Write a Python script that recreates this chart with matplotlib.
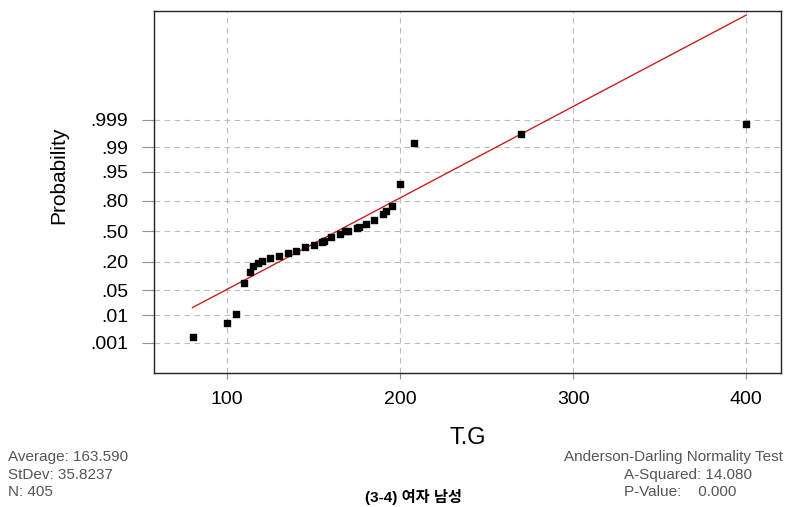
import matplotlib
matplotlib.use("Agg")
import matplotlib.pyplot as plt
from statistics import NormalDist

plt.rcParams['font.family'] = ['Liberation Sans', 'Noto Sans CJK KR', 'DejaVu Sans']

# data
tg = [80, 100, 105, 110, 113, 115, 118, 120, 125, 130, 135, 140, 145, 150,
      155, 156, 160, 165, 168, 170, 175, 176, 180, 185, 190, 192, 195, 200,
      208, 270, 400]
prob = [0.00164, 0.0054, 0.0104, 0.0735, 0.131, 0.166, 0.189, 0.206, 0.227,
        0.250, 0.274, 0.288, 0.326, 0.352, 0.386, 0.394, 0.436, 0.470, 0.500,
        0.508, 0.536, 0.552, 0.575, 0.622, 0.681, 0.716, 0.761, 0.905,
        0.9927, 0.9964, 0.9986]
prob_ticks = [0.001, 0.01, 0.05, 0.20, 0.50, 0.80, 0.95, 0.99, 0.999]
prob_labels = ['.001', '.01', '.05', '.20', '.50', '.80', '.95', '.99', '.999']
x_ticks = [100, 200, 300, 400]

# fitted reference line (as drawn)
fit_mean = 163.5
fit_sd = 39.4
fit_range = [80, 400]

nd = NormalDist()
z = [nd.inv_cdf(p) for p in prob]
z_ticks = [nd.inv_cdf(p) for p in prob_ticks]
line_z = [(v - fit_mean) / fit_sd for v in fit_range]

fig = plt.figure(figsize=(7.88, 5.07), dpi=100)
ax = fig.add_axes([0.196, 0.264, 0.795, 0.714])

ax.plot(fit_range, line_z, color='#cc1f1f', lw=1.0, zorder=2)
ax.scatter(tg, z, marker='s', s=15, color='black', zorder=3)

ax.set_xlim(58, 420)
ax.set_ylim(-3.94, 6.11)
ax.set_xticks(x_ticks)
ax.set_yticks(z_ticks)
ax.set_yticklabels(prob_labels)
ax.grid(True, ls=(0, (5, 4)), color='#bcbcbc', lw=0.8)
ax.tick_params(axis='y', length=9, color='#909090', labelsize=14, pad=10)
ax.tick_params(axis='x', length=4, color='#909090', labelsize=14, pad=9)
for s in ax.spines.values():
    s.set_color('#222222')
    s.set_linewidth(1.0)

ax.set_ylabel('Probability', fontsize=15)
ax.yaxis.set_label_coords(-0.138, 0.547)
ax.set_xlabel('T.G', fontsize=17)
ax.xaxis.set_label_coords(0.5, -0.15)

grey = '#555555'
fs = 11
fig.text(8 / 788, 1 - 457 / 507, 'Average: 163.590', fontsize=fs, color=grey, va='center')
fig.text(8 / 788, 1 - 475 / 507, 'StDev: 35.8237', fontsize=fs, color=grey, va='center')
fig.text(8 / 788, 1 - 492 / 507, 'N: 405', fontsize=fs, color=grey, va='center')
fig.text(783 / 788, 1 - 457 / 507, 'Anderson-Darling Normality Test', fontsize=fs, color=grey,
         va='center', ha='right')
fig.text(624 / 788, 1 - 475 / 507, 'A-Squared: 14.080', fontsize=fs, color=grey, va='center')
fig.text(624 / 788, 1 - 492 / 507, 'P-Value:    0.000', fontsize=fs, color=grey, va='center')
fig.text(365 / 788, 1 - 505 / 507, '(3-4) 여자 남성', fontsize=11, fontweight='bold',
         color='black', va='bottom')

fig.savefig('out.png', dpi=100)
